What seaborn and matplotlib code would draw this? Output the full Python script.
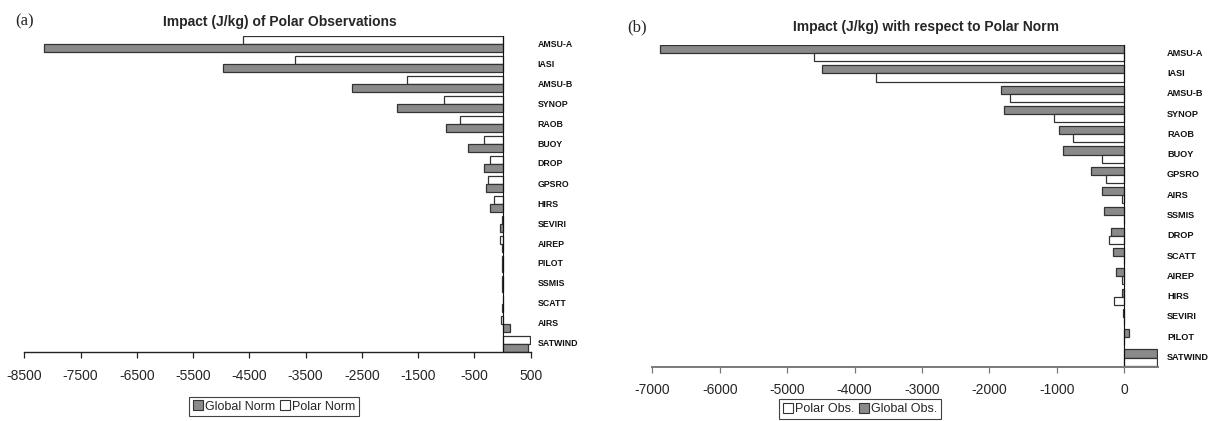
import matplotlib
matplotlib.use("Agg")
import matplotlib.pyplot as plt
import matplotlib.transforms as mtrans
from matplotlib.patches import Patch
import seaborn as sns
import pandas as pd

# ---------------- data ----------------
cats_a = ["AMSU-A", "IASI", "AMSU-B", "SYNOP", "RAOB", "BUOY", "DROP", "GPSRO",
          "HIRS", "SEVIRI", "AIREP", "PILOT", "SSMIS", "SCATT", "AIRS", "SATWIND"]
global_norm_a = [-8156, -4966, -2673, -1884, -1014, -619, -333, -286,
                 -231, -48, -14, -4, -3, -2, 129, 449]
polar_norm_a = [-4605, -3687, -1692, -1047, -763, -334, -221, -265,
                -159, -11, -37, -3, -2, -1, -28, 481]

cats_b = ["AMSU-A", "IASI", "AMSU-B", "SYNOP", "RAOB", "BUOY", "GPSRO", "AIRS",
          "SSMIS", "DROP", "SCATT", "AIREP", "HIRS", "SEVIRI", "PILOT", "SATWIND"]
global_obs_b = [-6886, -4489, -1831, -1785, -965, -913, -491, -324,
                -306, -191, -168, -127, -29, -12, 75, 491]
polar_obs_b = [-4605, -3687, -1692, -1047, -763, -334, -265, -28,
               -2, -221, -1, -37, -159, -10, -3, 481]

ticks_a = list(range(-8500, 501, 1000))
ticks_b = list(range(-7000, 1, 1000))

title_a = "Impact (J/kg) of Polar Observations"
title_b = "Impact (J/kg) with respect to Polar Norm"

GREY = "#8a8a8a"
WHITE = "#ffffff"
EDGE = "#333333"

sns.set_theme(style="white")
plt.rcParams["font.family"] = ["Liberation Sans", "DejaVu Sans"]

fig = plt.figure(figsize=(12.11, 4.21), dpi=100)
W, H = 1211, 421


def fig_axes(x0, x1, y0, y1):
    return fig.add_axes([x0 / W, 1 - y1 / H, (x1 - x0) / W, (y1 - y0) / H])


def panel(ax, cats, s_top, v_top, s_bot, v_bot, colors, xlim, ticks,
          ylim, spine_col, lab_pad, lab_size):
    df = pd.DataFrame({
        "obs": cats * 2,
        "value": list(v_top) + list(v_bot),
        "series": [s_top] * len(cats) + [s_bot] * len(cats),
    })
    sns.barplot(data=df, x="value", y="obs", hue="series",
                hue_order=[s_top, s_bot], order=cats, palette=colors,
                orient="h", width=0.8, errorbar=None, edgecolor=EDGE,
                linewidth=0.9, legend=False, ax=ax)
    ax.set_xlim(*xlim)
    ax.set_ylim(*ylim)
    ax.set_xlabel("")
    ax.set_ylabel("")
    ax.set_xticks(ticks)
    ax.set_xticklabels([str(t) for t in ticks], fontsize=10)
    ax.set_yticks([])
    # category labels to the right of the plotting area
    tr = mtrans.blended_transform_factory(ax.transAxes, ax.transData)
    off = mtrans.ScaledTranslation(lab_pad / 100, 0, fig.dpi_scale_trans)
    for i, c in enumerate(cats):
        ax.text(1.0, i, c, transform=tr + off, ha="left", va="center",
                fontsize=lab_size, fontweight="bold", color="#111111")
    ax.tick_params(axis="x", direction="out", length=4, width=0.9,
                   color=spine_col, pad=8, bottom=True)
    for s in ("top", "right"):
        ax.spines[s].set_visible(False)
    ax.spines["left"].set_position(("data", 0))
    ax.spines["left"].set_color("#111111")
    ax.spines["left"].set_linewidth(0.8)
    ax.spines["bottom"].set_color(spine_col)
    ax.spines["bottom"].set_linewidth(1.0)
    ax.patch.set_alpha(0)
    ax.grid(False)


# ---------------- panel (a) ----------------
ax1 = fig_axes(24.3, 530.7, 36, 352)
panel(ax1, cats_a, "Polar Norm", polar_norm_a, "Global Norm", global_norm_a,
      {"Polar Norm": WHITE, "Global Norm": GREY}, (-8500, 500), ticks_a,
      (15.4, -0.4), "#222222", 7, 6.3)

# ---------------- panel (b) ----------------
ax2 = fig_axes(652.3, 1158, 45, 366.7)
panel(ax2, cats_b, "Global Obs.", global_obs_b, "Polar Obs.", polar_obs_b,
      {"Global Obs.": GREY, "Polar Obs.": WHITE}, (-7000, 500), ticks_b,
      (15.45, -0.4), "#7a7a7a", 9, 6.6)
ax2.spines["bottom"].set_linewidth(1.4)

# titles and panel labels
fig.text(280 / W, 1 - 22 / H, title_a, ha="center", va="center",
         fontsize=10, fontweight="bold")
fig.text(926 / W, 1 - 27 / H, title_b, ha="center", va="center",
         fontsize=10, fontweight="bold")
fig.text(24.5 / W, 1 - 21 / H, "(a)", ha="center", va="center",
         fontsize=12, family=["Liberation Serif", "DejaVu Serif"])
fig.text(637 / W, 1 - 27 / H, "(b)", ha="center", va="center",
         fontsize=12, family=["Liberation Serif", "DejaVu Serif"])


# legends
def make_legend(labels, cols, cx, cy):
    handles = [Patch(facecolor=c, edgecolor=EDGE, linewidth=0.8) for c in cols]
    leg = fig.legend(handles, labels, loc="center",
                     bbox_to_anchor=(cx / W, 1 - cy / H), ncol=2,
                     fontsize=9, frameon=True, fancybox=False,
                     handlelength=0.8, handleheight=0.8, handletextpad=0.15,
                     columnspacing=0.4, borderpad=0.3, borderaxespad=0)
    leg.get_frame().set_edgecolor("#111111")
    leg.get_frame().set_linewidth(0.8)
    return leg


make_legend(["Global Norm", "Polar Norm"], [GREY, WHITE], 274, 406.5)
make_legend(["Polar Obs.", "Global Obs."], [WHITE, GREY], 860, 409)

fig.savefig("out.png", dpi=100)
